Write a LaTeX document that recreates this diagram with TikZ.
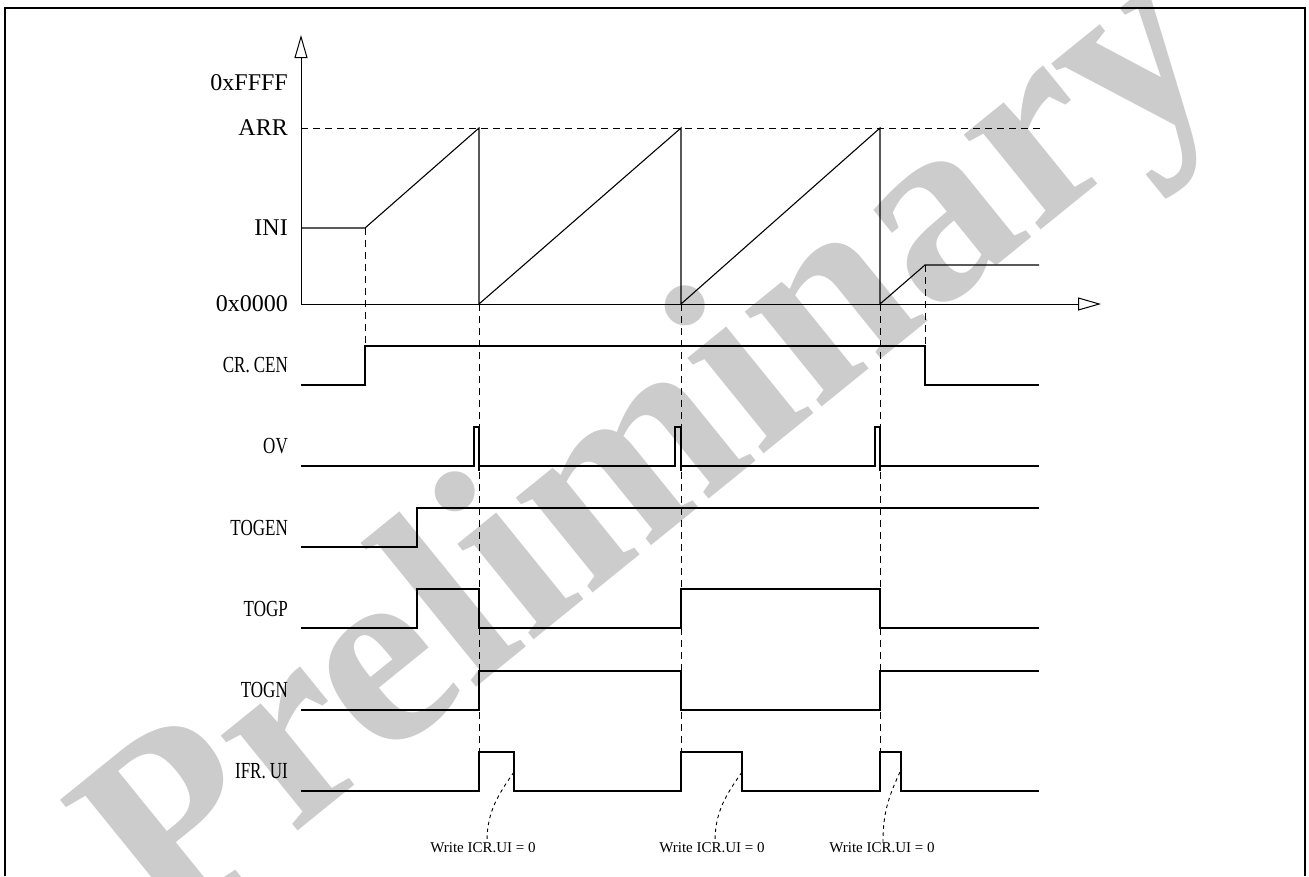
\documentclass[tikz,border=0pt]{standalone}
\usepackage{fontspec}
\setmainfont{Liberation Serif}
\newfontfamily\condfont[FakeStretch=0.74]{Liberation Serif}
\usetikzlibrary{arrows.meta}
\definecolor{wmgray}{HTML}{CCCCCC}
\begin{document}
\begin{tikzpicture}[x=1pt,y=-1pt,
  sig/.style={line width=1.1pt, line join=miter},
  guide/.style={line width=1pt, dash pattern=on 7pt off 5pt},
  notedash/.style={line width=0.9pt, dash pattern=on 3.5pt off 3.5pt},
  lbl/.style={anchor=east, inner sep=0pt, font=\condfont\fontsize{23}{26}\selectfont},
  axlbl/.style={anchor=east, inner sep=0pt, font=\fontsize{24}{26}\selectfont},
  note/.style={inner sep=1pt, font=\fontsize{15}{17}\selectfont},
  wm/.style={text=wmgray, inner sep=0pt, rotate=39, font=\fontsize{266}{266}\selectfont\bfseries},
  axisarrow/.style={-{Triangle[open, length=23pt, width=13pt]}, line width=1pt}
]
\useasboundingbox (0,0) rectangle (1309,876);

% watermark
\node[wm] (watermark) at (658,458) {Preliminary};

% frame
\draw[line width=2.2pt] (5,876) -- (5,8) -- (1305,8) -- (1305,876);

% axes
\coordinate (origin) at (301,304);
\coordinate (ytip) at (301,35);
\coordinate (xtip) at (1101,304);
\draw[axisarrow] (origin) -- (ytip);
\draw[axisarrow] (origin) -- (xtip);

% axis labels
\node[axlbl] (lffff) at (288,83) {0xFFFF};
\node[axlbl] (larr) at (288,128) {ARR};
\node[axlbl] (lini) at (288,228) {INI};
\node[axlbl] (lzero) at (288,304) {0x0000};

% ARR guide
\draw[guide] (301,128) -- (1040,128);

% counter
\draw[sig] (301,228) -- (365,228) -- (479,128) -- (479,304) -- (681,128) -- (681,304)
  -- (880,128) -- (880,304) -- (925,265) -- (1039,265);

% vertical guides
\draw[guide] (365,228) -- (365,346);
\draw[guide] (479,304) -- (479,752);
\draw[guide] (681,304) -- (681,752);
\draw[guide] (880,304) -- (880,752);
\draw[guide] (925,265) -- (925,346);

% signal labels
\node[lbl] (lcen) at (288,365) {CR.\kern4pt CEN};
\node[lbl] (lov) at (288,446) {OV};
\node[lbl] (ltogen) at (288,528) {TOGEN};
\node[lbl] (ltogp) at (288,609) {TOGP};
\node[lbl] (ltogn) at (288,690) {TOGN};
\node[lbl] (lifr) at (288,771) {IFR.\kern4pt UI};

% CR.CEN
\draw[sig] (301,385) -- (365,385) -- (365,346) -- (925,346) -- (925,385) -- (1039,385);
% OV
\draw[sig] (301,466) -- (474,466) -- (474,427) -- (479,427) -- (479,471);
\draw[sig] (479,466) -- (675,466) -- (675,427) -- (681,427) -- (681,471);
\draw[sig] (681,466) -- (875,466) -- (875,427) -- (880,427) -- (880,471);
\draw[sig] (880,466) -- (1039,466);
% TOGEN
\draw[sig] (301,547) -- (417,547) -- (417,508) -- (1039,508);
% TOGP
\draw[sig] (301,628) -- (417,628) -- (417,589) -- (479,589) -- (479,628) -- (681,628)
  -- (681,589) -- (880,589) -- (880,628) -- (1039,628);
% TOGN
\draw[sig] (301,710) -- (479,710) -- (479,671) -- (681,671) -- (681,710) -- (880,710)
  -- (880,671) -- (1039,671);
% IFR.UI
\draw[sig] (301,791) -- (479,791) -- (479,752) -- (514,752) -- (514,791) -- (681,791)
  -- (681,752) -- (742,752) -- (742,791) -- (880,791) -- (880,752) -- (901,752)
  -- (901,791) -- (1039,791);

% write notes
\node[note] (w1) at (483,848) {Write ICR.UI = 0};
\node[note] (w2) at (712,848) {Write ICR.UI = 0};
\node[note] (w3) at (882,848) {Write ICR.UI = 0};
\coordinate (c1) at (514,772);
\coordinate (c2) at (742,772);
\coordinate (c3) at (900,772);
\draw[notedash] (c1) to[out=235,in=90] ([xshift=4pt]w1.north);
\draw[notedash] (c2) to[out=235,in=90] ([xshift=3pt]w2.north);
\draw[notedash] (c3) to[out=245,in=90] ([xshift=1pt]w3.north);
\end{tikzpicture}
\end{document}
